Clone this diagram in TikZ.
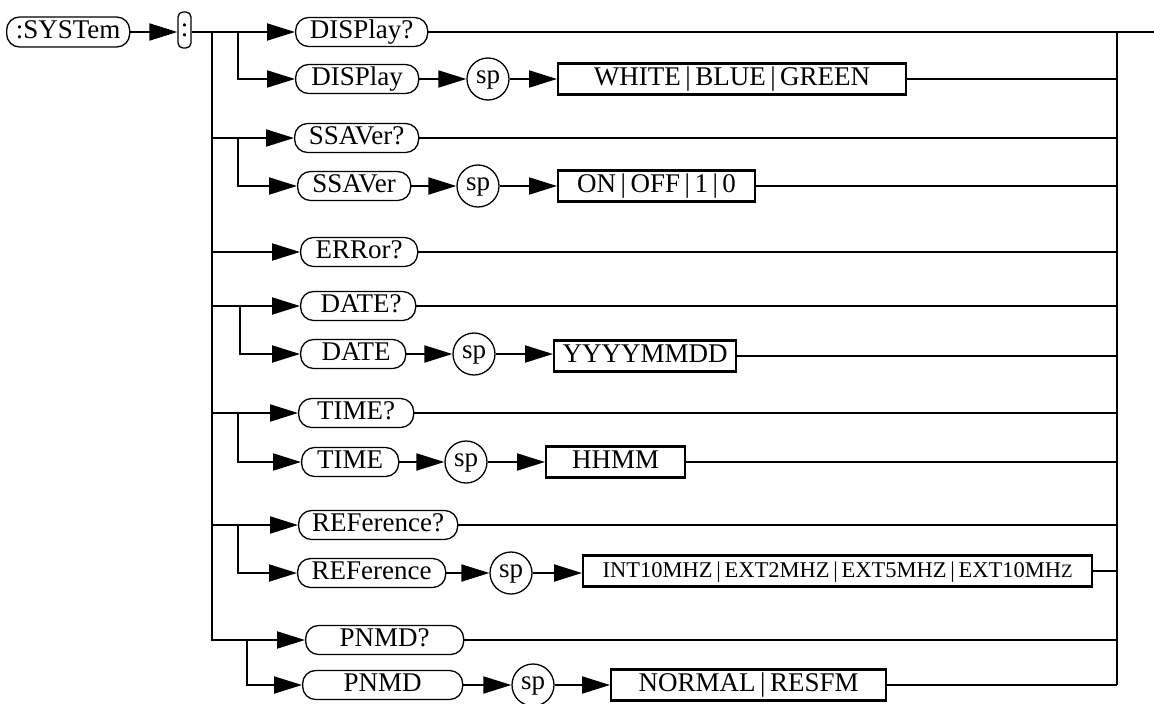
\documentclass[tikz,border=0pt]{standalone}
\usepackage{fontspec}
\setmainfont{Liberation Serif}
\usetikzlibrary{arrows.meta}
\begin{document}
\begin{tikzpicture}[x=1pt,y=-1pt,
  txt/.style={font=\fontsize{27}{31}\selectfont},
  pill/.style={txt, draw, line width=1.3pt, rounded corners=13pt, minimum height=29pt,
    inner sep=0pt, text height=17pt, text depth=4pt, anchor=west},
  spc/.style={txt, draw, circle, line width=1.3pt, minimum size=42pt, inner sep=0pt,
    text height=13pt, text depth=5pt},
  valbox/.style={txt, draw, line width=2.2pt, minimum height=31pt, inner sep=0pt,
    text height=17pt, text depth=4pt, anchor=west},
  conn/.style={line width=2pt},
  arr/.style={line width=2pt, -{Triangle[length=28pt,width=17pt]}},
]
\useasboundingbox (0,0) rectangle (1154,704);

% header
\node[pill, minimum width=123pt, minimum height=30pt] (sys) at (6,32) {:SYSTem};
\node[draw, line width=1.3pt, rounded corners=5pt, minimum width=13pt, minimum height=36pt,
  inner sep=0pt, txt] (colon) at (184.5,30) {:};

% key coordinates
\coordinate (tr) at (212,32);
\coordinate (rv) at (1117,32);
\coordinate (exit) at (1154,32);

% rows: queries and commands
\node[pill, minimum width=132pt] (dispq) at (295,32) {DISPlay?};
\node[pill, minimum width=123pt] (disp) at (295,79) {DISPlay};
\node[spc] (sp1) at (488,79) {sp};
\node[valbox, minimum width=348pt] (v1) at (557,79) {WHITE\,|\,BLUE\,|\,GREEN\hspace{22pt}};

\node[pill, minimum width=124pt] (ssaq) at (294,138) {SSAVer?};
\node[pill, minimum width=113pt] (ssa) at (297,186) {SSAVer};
\node[spc] (sp2) at (478,186) {sp};
\node[valbox, minimum width=197pt] (v2) at (557,186) {ON\,|\,OFF\,|\,1\,|\,0};

\node[pill, minimum width=117pt] (errq) at (300,252) {ERRor?};

\node[pill, minimum width=115pt] (dateq) at (300,306) {\hspace{6pt}DATE?};
\node[pill, minimum width=105pt] (date) at (300,354) {\hspace{6pt}DATE};
\node[spc] (sp3) at (474,354) {sp};
\node[valbox, minimum width=182pt] (v3) at (553,356) {YYYYMMDD};

\node[pill, minimum width=115pt] (timeq) at (298,413) {TIME?};
\node[pill, minimum width=97pt] (time) at (301,462) {TIME};
\node[spc] (sp4) at (466,462) {sp};
\node[valbox, minimum width=139pt] (v4) at (545,462) {HHMM\hspace{12pt}};

\node[pill, minimum width=159pt] (refq) at (298,525) {REFerence?};
\node[pill, minimum width=148pt] (ref) at (297,573) {REFerence};
\node[spc] (sp5) at (511,573) {sp};
\node[valbox, minimum width=509pt, font=\fontsize{22.5}{26}\selectfont] (v5) at (582,571)
  {INT10MHZ\,|\,EXT2MHZ\,|\,EXT5MHZ\,|\,EXT10MH{\fontsize{19}{22}\selectfont Z}};

\node[pill, minimum width=158pt] (pnmdq) at (305,640) {PNMD?};
\node[pill, minimum width=160pt] (pnmd) at (302,685) {PNMD};
\node[spc] (sp6) at (533,685) {sp};
\node[valbox, minimum width=275pt] (v6) at (610,685) {NORMAL\,|\,RESFM};

% branch points
\coordinate (b1) at (238,32);
\coordinate (b2) at (238,138);
\coordinate (b3) at (240,306);
\coordinate (b4) at (238,413);
\coordinate (b5) at (238,525);
\coordinate (b6) at (247,640);

% header connectors
\draw[arr] (sys) -- (colon.west |- sys.east);
\draw[arr] (colon.east |- dispq.west) -- (dispq.west);
\draw[arr] (tr) |- (pnmdq.west);

% group entries from trunk
\draw[arr] (tr |- ssaq.west) -- (ssaq.west);
\draw[arr] (tr |- errq.west) -- (errq.west);
\draw[arr] (tr |- dateq.west) -- (dateq.west);
\draw[arr] (tr |- timeq.west) -- (timeq.west);
\draw[arr] (tr |- refq.west) -- (refq.west);

% sub-branches
\draw[arr] (b1) |- (disp.west);
\draw[arr] (b2) |- (ssa.west);
\draw[arr] (b3) |- (date.west);
\draw[arr] (b4) |- (time.west);
\draw[arr] (b5) |- (ref.west);
\draw[arr] (b6) |- (pnmd.west);

% command -> sp -> value
\draw[arr] (disp) -- (sp1);  \draw[arr] (sp1) -- (v1.west |- sp1.east);
\draw[arr] (ssa) -- (sp2);   \draw[arr] (sp2) -- (v2.west |- sp2.east);
\draw[arr] (date) -- (sp3);  \draw[arr] (sp3) -- (v3.west |- sp3.east);
\draw[arr] (time) -- (sp4);  \draw[arr] (sp4) -- (v4.west |- sp4.east);
\draw[arr] (ref) -- (sp5);   \draw[arr] (sp5) -- (v5.west |- sp5.east);
\draw[arr] (pnmd) -- (sp6);  \draw[arr] (sp6) -- (v6.west |- sp6.east);

% right side
\draw[conn] (dispq.east) -- (exit);
\draw[conn] (v1.east) -- (v1.east -| rv);
\draw[conn] (ssaq.east) -- (ssaq.east -| rv);
\draw[conn] (v2.east) -- (v2.east -| rv);
\draw[conn] (errq.east) -- (errq.east -| rv);
\draw[conn] (dateq.east) -- (dateq.east -| rv);
\draw[conn] (v3.east) -- (v3.east -| rv);
\draw[conn] (timeq.east) -- (timeq.east -| rv);
\draw[conn] (v4.east) -- (v4.east -| rv);
\draw[conn] (refq.east) -- (refq.east -| rv);
\draw[conn] (v5.east) -- (v5.east -| rv);
\draw[conn] (pnmdq.east) -- (pnmdq.east -| rv);
\draw[conn] (v6.east) -- (v6.east -| rv);
\draw[conn] (rv) -- (rv |- v6.east);
\end{tikzpicture}
\end{document}
